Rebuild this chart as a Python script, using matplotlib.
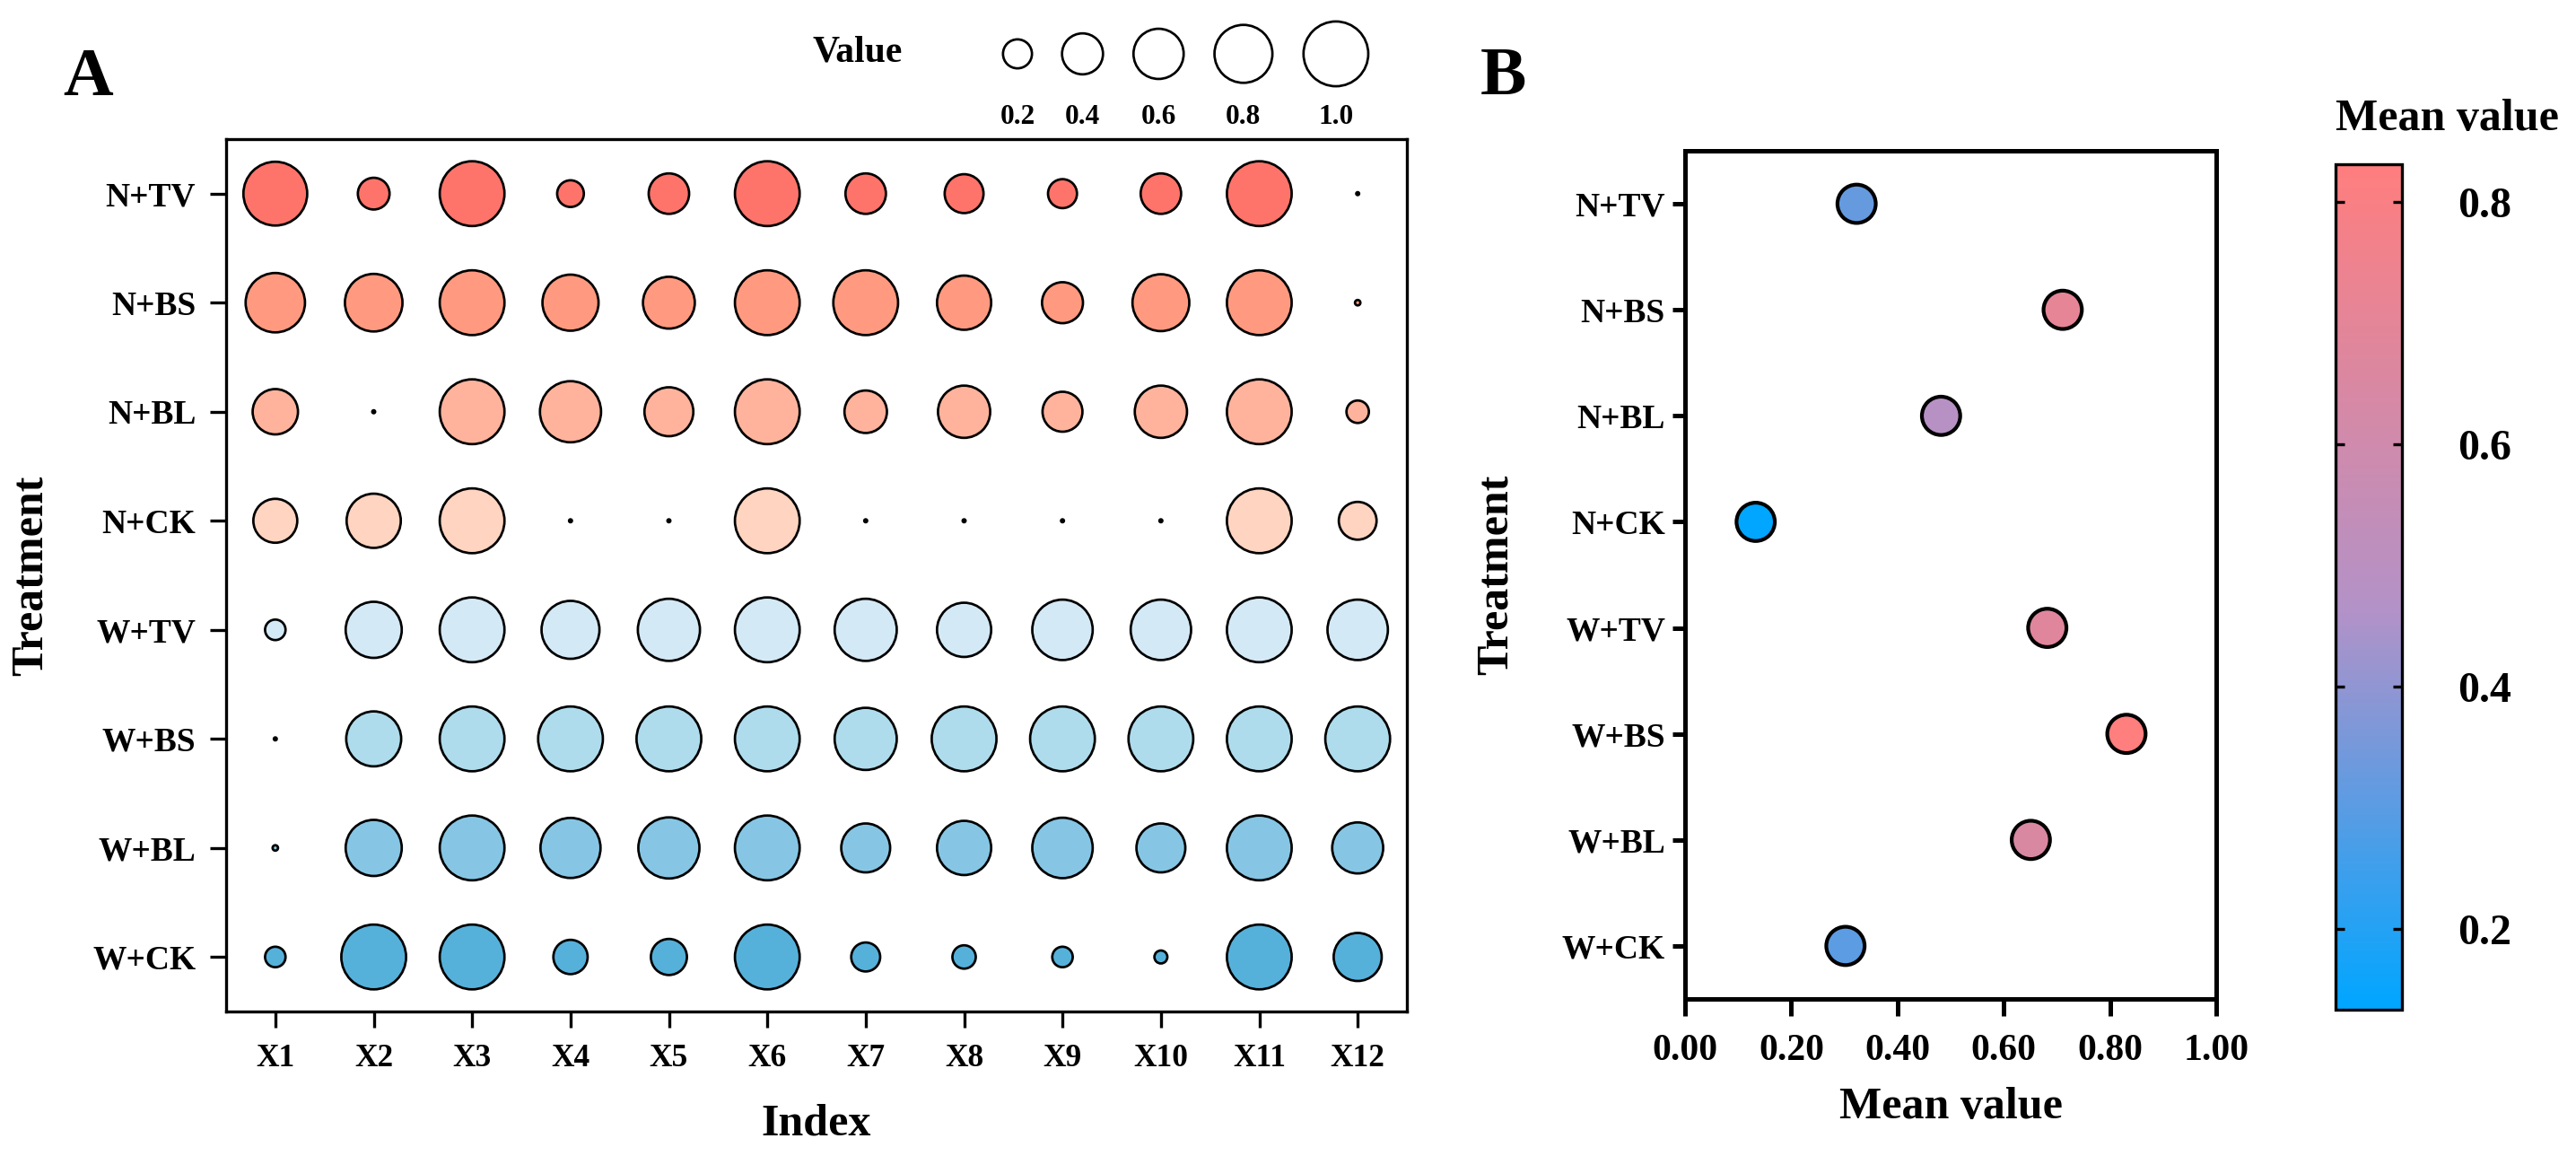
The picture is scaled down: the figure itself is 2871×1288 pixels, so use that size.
import numpy as np
import matplotlib
matplotlib.use('Agg')
import matplotlib.pyplot as plt
from matplotlib.colors import LinearSegmentedColormap, Normalize

plt.rcParams['font.family'] = ['Liberation Serif', 'DejaVu Serif']
plt.rcParams['font.weight'] = 'bold'
plt.rcParams['axes.labelweight'] = 'bold'

treatments = ['N+TV', 'N+BS', 'N+BL', 'N+CK', 'W+TV', 'W+BS', 'W+BL', 'W+CK']
indices = ['X1', 'X2', 'X3', 'X4', 'X5', 'X6', 'X7', 'X8', 'X9', 'X10', 'X11', 'X12']

# normalised index values, one list per treatment (read from the bubbles)
n_tv = [0.97, 0.24, 1.00, 0.17, 0.39, 1.00, 0.39, 0.36, 0.20, 0.39, 1.00, 0.00]
n_bs = [0.84, 0.79, 1.00, 0.75, 0.64, 1.00, 1.00, 0.70, 0.40, 0.77, 1.00, 0.007]
n_bl = [0.49, 0.00, 1.00, 0.89, 0.57, 1.00, 0.43, 0.65, 0.38, 0.65, 1.00, 0.12]
n_ck = [0.46, 0.70, 1.00, 0.00, 0.00, 1.00, 0.00, 0.00, 0.00, 0.00, 1.00, 0.34]
w_tv = [0.10, 0.75, 1.00, 0.80, 0.92, 1.00, 0.92, 0.70, 0.87, 0.87, 1.00, 0.87]
w_bs = [0.00, 0.72, 1.00, 1.00, 1.00, 1.00, 0.92, 1.00, 1.00, 1.00, 1.00, 1.00]
w_bl = [0.007, 0.75, 1.00, 0.86, 0.89, 1.00, 0.57, 0.70, 0.87, 0.57, 1.00, 0.62]
w_ck = [0.10, 1.00, 1.00, 0.28, 0.31, 1.00, 0.20, 0.13, 0.10, 0.04, 1.00, 0.55]
rows = [n_tv, n_bs, n_bl, n_ck, w_tv, w_bs, w_bl, w_ck]

row_colors = ['#FF746A', '#FF9A80', '#FFB39C', '#FFD4C0',
              '#D4E9F6', '#AEDCEC', '#86C6E4', '#56B1DA']

mean_values = [0.323, 0.711, 0.482, 0.133, 0.682, 0.831, 0.651, 0.302]
legend_values = [0.2, 0.4, 0.6, 0.8, 1.0]

W, H, DPI = 2871, 1288, 300
fig = plt.figure(figsize=(W / DPI, H / DPI), dpi=DPI)


def fx(px):
    return px / W


def fy(py):
    return 1 - py / H


S1 = 300  # marker area (pt^2) for value 1.0
ypos = np.arange(len(treatments))[::-1] + 1
xpos = np.arange(1, len(indices) + 1)

# ---- panel A
axA = fig.add_axes([fx(252), fy(1127), fx(1568) - fx(252), fy(155) - fy(1127)])
for yi, vals, col in zip(ypos, rows, row_colors):
    sizes = np.maximum(np.array(vals), 0.002) * S1
    axA.scatter(xpos, np.full(len(xpos), yi), s=sizes, color=col,
                edgecolor='black', linewidth=0.65, zorder=3)
axA.set_xlim(0.5, 12.5)
axA.set_ylim(0.5, 8.5)
axA.set_xticks(xpos)
axA.set_xticklabels(indices, fontsize=8.5)
axA.set_yticks(ypos)
axA.set_yticklabels(treatments, fontsize=9)
axA.tick_params(axis='both', direction='out', length=4.3, width=0.8)
axA.tick_params(axis='x', pad=4.3)
axA.tick_params(axis='y', pad=3.8)
for sp in axA.spines.values():
    sp.set_linewidth(0.8)
axA.set_xlabel('Index', fontsize=12)
axA.set_ylabel('Treatment', fontsize=12)
axA.xaxis.set_label_coords(0.5, -0.105)
axA.yaxis.set_label_coords(-0.148, 0.5)

# ---- size legend above panel A
lax = fig.add_axes([0, 0, 1, 1])
lax.set_xlim(0, W)
lax.set_ylim(H, 0)
lax.axis('off')
diam = [75 * np.sqrt(v) for v in legend_values]
lx = [1134]
for i in range(1, len(legend_values)):
    lx.append(lx[-1] + diam[i - 1] / 2 + 32 + diam[i] / 2)
lax.scatter(lx, [60] * len(lx), s=[v * S1 for v in legend_values],
            facecolor='white', edgecolor='black', linewidth=0.65)
for x, v in zip(lx, legend_values):
    lax.text(x, 130, f'{v:.1f}', ha='center', va='center', fontsize=7.5)
lax.text(906, 58, 'Value', ha='left', va='center', fontsize=10)

fig.text(fx(70), fy(106), 'A', fontsize=18.5, va='baseline', ha='left')
fig.text(fx(1650), fy(105), 'B', fontsize=18.5, va='baseline', ha='left')

# ---- panel B
cmap = LinearSegmentedColormap.from_list(
    'mv', [(0, '#00A6FF'), (0.47, '#B292C8'), (1, '#FF7E7E')])
norm = Normalize(vmin=min(mean_values), vmax=max(mean_values))
axB = fig.add_axes([fx(1878), fy(1113), fx(2470) - fx(1878), fy(168) - fy(1113)])
sc = axB.scatter(mean_values, ypos, c=mean_values, cmap=cmap, norm=norm,
                 s=105, edgecolor='black', linewidth=1.0, zorder=3)
axB.set_xlim(0, 1)
axB.set_ylim(0.5, 8.5)
axB.set_xticks([0, 0.2, 0.4, 0.6, 0.8, 1.0])
axB.set_xticklabels([f'{t:.2f}' for t in [0, 0.2, 0.4, 0.6, 0.8, 1.0]], fontsize=10)
axB.set_yticks(ypos)
axB.set_yticklabels(treatments, fontsize=9)
axB.tick_params(axis='both', direction='out', width=1.2)
axB.tick_params(axis='x', length=4.5, pad=4.8)
axB.tick_params(axis='y', length=3.3, pad=2)
for sp in axB.spines.values():
    sp.set_linewidth(1.2)
axB.set_xlabel('Mean value', fontsize=12)
axB.set_ylabel('Treatment', fontsize=12)
axB.xaxis.set_label_coords(0.5, -0.104)
axB.yaxis.set_label_coords(-0.316, 0.5)

cax = fig.add_axes([fx(2603), fy(1125), fx(2677) - fx(2603), fy(183) - fy(1125)])
cb = fig.colorbar(sc, cax=cax)
cb.set_ticks([0.2, 0.4, 0.6, 0.8])
cb.set_ticklabels(['0.2', '0.4', '0.6', '0.8'])
cb.outline.set_linewidth(0.8)
cax.tick_params(direction='in', left=True, right=True, labelleft=False,
                labelright=True, length=2.4, width=0.8, pad=15, labelsize=11.5)
fig.text(fx(2603), fy(145), 'Mean value', fontsize=12, ha='left', va='baseline')

fig.savefig('out.png', dpi=DPI)
